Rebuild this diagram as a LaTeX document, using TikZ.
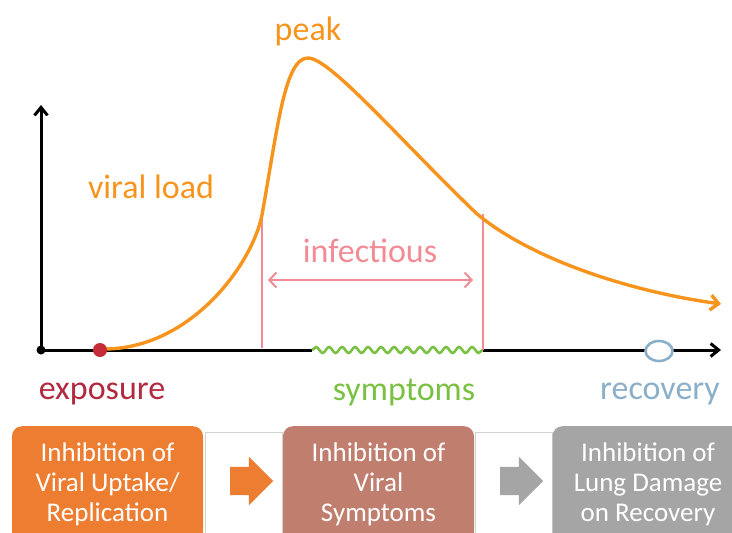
\documentclass[tikz,border=0pt]{standalone}
\usepackage{fontspec}
\setmainfont{Carlito}
\usetikzlibrary{arrows.meta,shapes.arrows,shapes.geometric,decorations.pathmorphing}
\definecolor{loadorange}{HTML}{F7941E}
\definecolor{infpink}{HTML}{F28B95}
\definecolor{symgreen}{HTML}{7AC143}
\definecolor{expred}{HTML}{B22A3F}
\definecolor{dotred}{HTML}{C62B3A}
\definecolor{recblue}{HTML}{8BAFC9}
\definecolor{boxorange}{HTML}{ED7D31}
\definecolor{boxrose}{HTML}{C07F6E}
\definecolor{boxgray}{HTML}{A5A5A5}

\begin{document}
\begin{tikzpicture}[x=1pt, y=-1pt,
    phase/.style={rounded corners=10pt, text=white, minimum width=191pt, minimum height=116pt,
        align=center, inner sep=0pt, anchor=north, font=\fontsize{27}{30}\selectfont},
    gapframe/.style={draw=gray!35, fill=white, minimum width=77pt, minimum height=112pt,
        inner sep=0pt, anchor=north},
    phasearrow/.style={single arrow, minimum height=43pt, inner xsep=0pt, inner ysep=14pt,
        single arrow head extend=10pt},
    hand/.style={anchor=base, font=\fontsize{34}{36}\selectfont}]
    \useasboundingbox (0,0) rectangle (732,533);
    \clip (0,0) rectangle (732,533);

    % Axes
    \node[circle, fill=black, inner sep=0pt, minimum size=9pt] (orig) at (41,350) {};
    \coordinate (ytip) at (41,105);
    \coordinate (xtip) at (721,350);
    \coordinate (symstart) at (312,350);
    \coordinate (symend) at (483,350);
    \draw[line width=3pt, -{Straight Barb[length=8pt,width=13pt]}] (orig.center) -- (ytip);
    \draw[line width=3pt] (orig.center) -- (symstart);
    \draw[line width=3pt, -{Straight Barb[length=8pt,width=13pt]}] (symend) -- (xtip);

    % Symptoms
    \draw[symgreen, line width=2.6pt, decorate,
        decoration={snake, segment length=13pt, amplitude=3pt}] (symstart) -- (symend);

    % Infectious window
    \coordinate (infL) at (262,216);
    \coordinate (infR) at (483,214);
    \draw[infpink, line width=2pt] (infL) -- (262,348);
    \draw[infpink, line width=2pt] (infR) -- (symend);
    \coordinate (arrL) at (268,280);
    \coordinate (arrR) at (473,280);
    \draw[infpink, line width=2pt, {Straight Barb[length=7pt,width=15pt]}-{Straight Barb[length=7pt,width=15pt]}] (arrL) -- (arrR);

    % Viral load curve
    \draw[loadorange, line width=3.4pt, -{Straight Barb[length=8pt,width=15pt]}]
        (104,349) .. controls (190,349) and (252,265) .. (262,215)
        .. controls (278,125) and (285,58) .. (308,58)
        .. controls (330,58) and (400,140) .. (476,213)
        .. controls (525,255) and (620,290) .. (721,304);

    % Events
    \node[circle, fill=dotred, inner sep=0pt, minimum size=14pt] (expdot) at (100,350) {};
    \node[ellipse, draw=recblue, fill=white, line width=2.6pt, inner sep=0pt,
        minimum width=27pt, minimum height=20pt] (recdot) at (659,351) {};

    % Labels
    \node[hand, text=loadorange] (peak) at (308,40) {peak};
    \node[hand, text=loadorange] (load) at (151,198) {viral load};
    \node[hand, text=infpink] (infect) at (370,262) {infectious};
    \node[hand, text=expred] (expo) at (102,399) {exposure};
    \node[hand, text=symgreen] (symp) at (404,400) {symptoms};
    \node[hand, text=recblue] (recov) at (660,399) {recovery};

    % Treatment phases
    \node[gapframe] (gapA) at (243.5,432) {};
    \node[gapframe] (gapB) at (514,432) {};
    \node[phase, fill=boxorange] (uptake) at (107.5,426) {Inhibition of\\Viral Uptake/\\Replication};
    \node[phase, fill=boxrose] (sympbox) at (378.5,426) {Inhibition of\\Viral\\Symptoms};
    \node[phase, fill=boxgray] (lung) at (648,426) {Inhibition of\\Lung Damage\\on Recovery};
    \node[phasearrow, fill=boxorange] (arrA) at (244.5,481) {};
    \node[phasearrow, fill=boxgray] (arrB) at (514.5,481) {};
\end{tikzpicture}
\end{document}
